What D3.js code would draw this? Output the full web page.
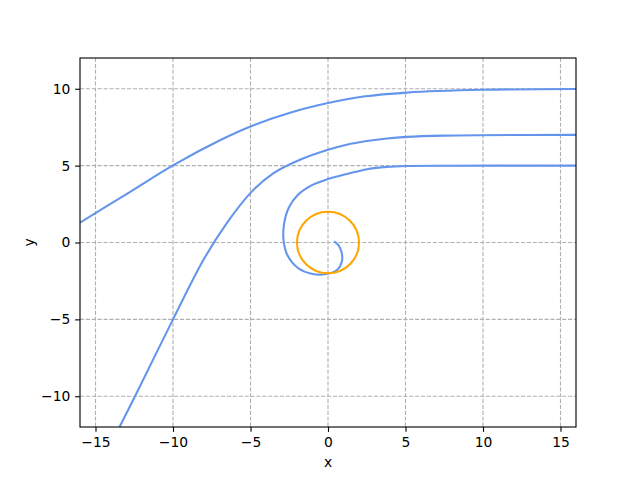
<!DOCTYPE html>
<html>
<head>
<meta charset="utf-8">
<script src="https://cdn.jsdelivr.net/npm/d3@7"></script>
<style>
body { margin: 0; background: #fff; }
text { font-family: "DejaVu Sans", sans-serif; }
</style>
</head>
<body>
<script>
// values
var xTicks = [-15, -10, -5, 0, 5, 10, 15];
var yTicks = [-10, -5, 0, 5, 10];
var xDomain = [-16, 16];
var yDomain = [-12, 12];

var outerPath = [[-16, 1.29], [-13, 3.15], [-10, 5.02], [-6.97, 6.65], [-4.92, 7.58], [-2.45, 8.44],
  [0, 9.07], [2.28, 9.49], [5.08, 9.75], [10, 9.93], [16, 9.98]];
var middlePath = [[-13.45, -12], [-12.45, -10], [-10, -5], [-8.04, -1.14], [-6.54, 1.25], [-4.92, 3.31],
  [-3.53, 4.5], [-1.81, 5.38], [0, 6.03], [1.2, 6.36], [2.5, 6.6], [3.8, 6.77], [5.08, 6.87],
  [7.5, 6.95], [10, 6.98], [16, 7.0]];
var spiralPath = [[16, 5.0], [12, 5.0], [8, 4.995], [5.08, 4.98], [3.78, 4.92], [2.6, 4.78], [1.4, 4.5],
  [0, 4.13], [-1.07, 3.72], [-1.94, 3.1], [-2.54, 2.24], [-2.84, 1.16], [-2.86, 0.08], [-2.58, -0.9],
  [-1.94, -1.66], [-1.07, -2.03], [-0.11, -2.05], [0.6, -1.77], [0.9, -1.22], [0.86, -0.57],
  [0.65, -0.14], [0.39, 0.08]];
var ring = {cx: 0, cy: 0, r: 2};

var width = 640, height = 480;
var margin = {top: 58, right: 64, bottom: 53, left: 80};
var w = width - margin.left - margin.right;
var h = height - margin.top - margin.bottom;

var svg = d3.select("body").append("svg")
  .attr("width", width)
  .attr("height", height);

var x = d3.scaleLinear().domain(xDomain).range([0, w]);
var y = d3.scaleLinear().domain(yDomain).range([h, 0]);

var g = svg.append("g")
  .attr("transform", "translate(" + margin.left + "," + margin.top + ")");

svg.append("defs").append("clipPath")
  .attr("id", "plotclip")
  .append("rect")
  .attr("width", w)
  .attr("height", h);

// grid
g.append("g").selectAll("line")
  .data(xTicks)
  .enter().append("line")
  .attr("x1", function(d) { return x(d); })
  .attr("x2", function(d) { return x(d); })
  .attr("y1", 0)
  .attr("y2", h)
  .attr("stroke", "#b0b0b0")
  .attr("stroke-width", 1.11)
  .attr("stroke-dasharray", "4.1,1.78");
g.append("g").selectAll("line")
  .data(yTicks)
  .enter().append("line")
  .attr("y1", function(d) { return y(d); })
  .attr("y2", function(d) { return y(d); })
  .attr("x1", 0)
  .attr("x2", w)
  .attr("stroke", "#b0b0b0")
  .attr("stroke-width", 1.11)
  .attr("stroke-dasharray", "4.1,1.78");

var plot = g.append("g").attr("clip-path", "url(#plotclip)");

var line = d3.line()
  .x(function(d) { return x(d[0]); })
  .y(function(d) { return y(d[1]); })
  .curve(d3.curveCatmullRom.alpha(0.5));

[outerPath, middlePath, spiralPath].forEach(function(p) {
  plot.append("path")
    .attr("d", line(p))
    .attr("fill", "none")
    .attr("stroke", "#6495ed")
    .attr("stroke-width", 2.08);
});

plot.append("ellipse")
  .attr("cx", x(ring.cx))
  .attr("cy", y(ring.cy))
  .attr("rx", x(ring.r) - x(0))
  .attr("ry", y(0) - y(ring.r))
  .attr("fill", "none")
  .attr("stroke", "#ffa500")
  .attr("stroke-width", 2.08);

// axes
var fmt = function(d) { return d < 0 ? "\u2212" + Math.abs(d) : String(d); };
var xAxis = g.append("g")
  .attr("transform", "translate(0," + h + ")")
  .call(d3.axisBottom(x).tickValues(xTicks).tickFormat(fmt).tickSize(4.86).tickPadding(4.86));
var yAxis = g.append("g")
  .call(d3.axisLeft(y).tickValues(yTicks).tickFormat(fmt).tickSize(4.86).tickPadding(4.86));
[xAxis, yAxis].forEach(function(a) {
  a.select(".domain").remove();
  a.selectAll(".tick line").attr("stroke", "#000").attr("stroke-width", 1.11);
  a.selectAll(".tick text").attr("font-size", "13.89px").attr("font-family", "DejaVu Sans").attr("fill", "#000");
});

g.append("rect")
  .attr("width", w)
  .attr("height", h)
  .attr("fill", "none")
  .attr("stroke", "#000")
  .attr("stroke-width", 1.11);

svg.append("text")
  .attr("x", margin.left + w / 2)
  .attr("y", 467)
  .attr("text-anchor", "middle")
  .attr("font-size", "13.89px")
  .text("x");
svg.append("text")
  .attr("transform", "translate(34," + (margin.top + h / 2) + ") rotate(-90)")
  .attr("text-anchor", "middle")
  .attr("font-size", "13.89px")
  .text("y");
</script>
</body>
</html>
